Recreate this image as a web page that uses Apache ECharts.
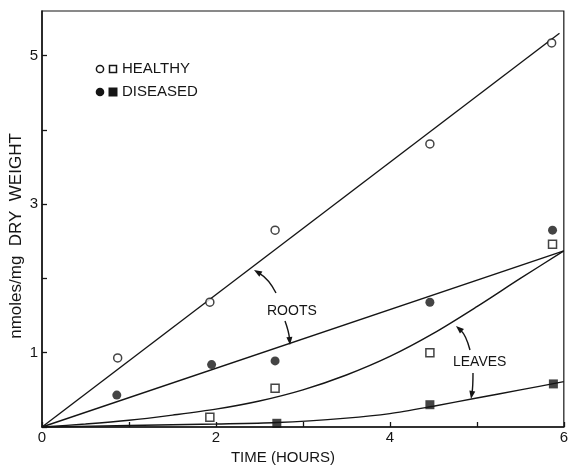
<!DOCTYPE html>
<html>
<head>
<meta charset="utf-8">
<script src="https://cdn.jsdelivr.net/npm/echarts@6/dist/echarts.min.js"></script>
<style>
html,body{margin:0;padding:0;background:#fff;}
#c{width:571px;height:465px;}
</style>
</head>
<body>
<div id="c"></div>
<script>
// ---- data ----
var xTickLabels = [0, 2, 4, 6];
var yTickLabels = [1, 3, 5];

var timeHealthyRoots = [0.87, 1.93, 2.68, 4.46, 5.86];
var healthyRoots     = [0.93, 1.68, 2.65, 3.81, 5.17];
var timeDiseasedRoots = [0.86, 1.95, 2.68, 4.46, 5.87];
var diseasedRoots     = [0.43, 0.84, 0.89, 1.68, 2.65];
var timeHealthyLeaves = [1.93, 2.68, 4.46, 5.87];
var healthyLeaves     = [0.13, 0.52, 1.00, 2.46];
var timeDiseasedLeaves = [2.70, 4.46, 5.88];
var diseasedLeaves     = [0.05, 0.30, 0.58];

// fitted curves as drawn in the figure
var fitHealthyRootsX = [0, 5.95];
var fitHealthyRootsY = [0, 5.30];
var fitDiseasedRootsX = [0, 6];
var fitDiseasedRootsY = [0, 2.37];
var fitHealthyLeavesX = [0, 0.5, 1, 1.5, 2, 2.5, 3, 3.5, 4, 4.5, 5, 5.5, 6];
var fitHealthyLeavesY = [0, 0.04, 0.09, 0.16, 0.24, 0.35, 0.50, 0.70, 0.95, 1.26, 1.62, 2.00, 2.37];
var fitDiseasedLeavesX = [0, 1, 2, 2.7, 3.5, 4, 4.5, 5, 5.5, 6];
var fitDiseasedLeavesY = [0, 0.02, 0.04, 0.06, 0.12, 0.18, 0.28, 0.39, 0.50, 0.61];

function pairs(xs, ys) { return xs.map(function (x, i) { return [x, ys[i]]; }); }

var INK = '#151515';
var FONT = '"Liberation Sans", Arial, sans-serif';

function arrow(x0, y0, cx, cy, x1, y1) {
  var dx = x1 - cx, dy = y1 - cy, L = Math.sqrt(dx * dx + dy * dy);
  var ux = dx / L, uy = dy / L, len = 8, w = 3;
  var bx = x1 - ux * len, by = y1 - uy * len;
  return [
    { type: 'bezierCurve', shape: { x1: x0, y1: y0, cpx1: cx, cpy1: cy, x2: bx + ux * 2, y2: by + uy * 2 },
      style: { stroke: INK, lineWidth: 1.4, fill: null }, z: 10 },
    { type: 'polygon', shape: { points: [[x1, y1], [bx - uy * w, by + ux * w], [bx + uy * w, by - ux * w]] },
      style: { fill: INK }, z: 10 }
  ];
}

var chart = echarts.init(document.getElementById('c'), null, { renderer: 'canvas' });

var lineStyle = { color: INK, width: 1.4 };
var graphics = [
  // legend
  { type: 'circle', shape: { cx: 100, cy: 69, r: 3.6 }, style: { fill: '#fff', stroke: INK, lineWidth: 1.5 } },
  { type: 'rect', shape: { x: 109.5, y: 65.5, width: 7, height: 7 }, style: { fill: '#fff', stroke: INK, lineWidth: 1.5 } },
  { type: 'text', left: 122, top: 61, style: { text: 'HEALTHY', font: '15px ' + FONT, fill: INK } },
  { type: 'circle', shape: { cx: 100, cy: 92, r: 4.3 }, style: { fill: INK } },
  { type: 'rect', shape: { x: 108.5, y: 87.5, width: 9, height: 9 }, style: { fill: INK } },
  { type: 'text', left: 122, top: 84, style: { text: 'DISEASED', font: '15px ' + FONT, fill: INK } },
  // annotations
  { type: 'text', left: 267, top: 304, style: { text: 'ROOTS', font: '14px ' + FONT, fill: INK } },
  { type: 'text', left: 453, top: 355, style: { text: 'LEAVES', font: '14px ' + FONT, fill: INK } },
  // axis titles
  { type: 'text', x: 283, y: 458, style: { text: 'TIME (HOURS)', font: '15px ' + FONT, fill: INK, align: 'center', verticalAlign: 'middle' } },
  { type: 'text', x: 16, y: 236, rotation: Math.PI / 2, style: { text: 'nmoles/mg  DRY  WEIGHT', font: '17px ' + FONT, fill: INK, align: 'center', verticalAlign: 'middle' } }
];
graphics = graphics.concat(
  arrow(276, 293, 269, 279, 254, 270),
  arrow(285, 321, 289, 332, 290, 345),
  arrow(470, 350, 466, 335, 456, 326),
  arrow(473, 373, 473, 387, 471, 399)
);

chart.setOption({
  animation: false,
  backgroundColor: '#fff',
  grid: { left: 42, right: 1, top: 11, bottom: 38, show: true, borderColor: INK, borderWidth: 1.2 },
  xAxis: {
    type: 'value', min: 0, max: 6, interval: 1,
    axisLine: { lineStyle: { color: INK, width: 1.5 } },
    axisTick: { inside: true, length: 5, lineStyle: { color: INK, width: 1.3 } },
    axisLabel: { customValues: xTickLabels, color: INK, fontSize: 15, fontFamily: FONT, margin: 3 },
    splitLine: { show: false }
  },
  yAxis: {
    type: 'value', min: 0, max: 5.6, interval: 1,
    axisLine: { show: true, lineStyle: { color: INK, width: 1.5 } },
    axisTick: { show: true, inside: true, length: 5, customValues: [0, 1, 2, 3, 4, 5], lineStyle: { color: INK, width: 1.3 } },
    axisLabel: { customValues: yTickLabels, color: INK, fontSize: 15, fontFamily: FONT, margin: 4 },
    splitLine: { show: false }
  },
  graphic: graphics,
  series: [
    { type: 'line', data: pairs(fitHealthyRootsX, fitHealthyRootsY), showSymbol: false, lineStyle: lineStyle, silent: true },
    { type: 'line', data: pairs(fitDiseasedRootsX, fitDiseasedRootsY), showSymbol: false, lineStyle: lineStyle, silent: true },
    { type: 'line', data: pairs(fitHealthyLeavesX, fitHealthyLeavesY), showSymbol: false, smooth: 0.3, lineStyle: lineStyle, silent: true },
    { type: 'line', data: pairs(fitDiseasedLeavesX, fitDiseasedLeavesY), showSymbol: false, smooth: 0.3, lineStyle: lineStyle, silent: true },
    { type: 'scatter', data: pairs(timeHealthyRoots, healthyRoots), symbol: 'circle', symbolSize: 8,
      itemStyle: { color: '#fff', borderColor: INK, borderWidth: 1.5 }, z: 5 },
    { type: 'scatter', data: pairs(timeDiseasedRoots, diseasedRoots), symbol: 'circle', symbolSize: 9,
      itemStyle: { color: INK }, z: 5 },
    { type: 'scatter', data: pairs(timeHealthyLeaves, healthyLeaves), symbol: 'rect', symbolSize: 8,
      itemStyle: { color: '#fff', borderColor: INK, borderWidth: 1.5 }, z: 5 },
    { type: 'scatter', data: pairs(timeDiseasedLeaves, diseasedLeaves), symbol: 'rect', symbolSize: 9,
      itemStyle: { color: INK }, z: 5 }
  ]
});
</script>
</body>
</html>
